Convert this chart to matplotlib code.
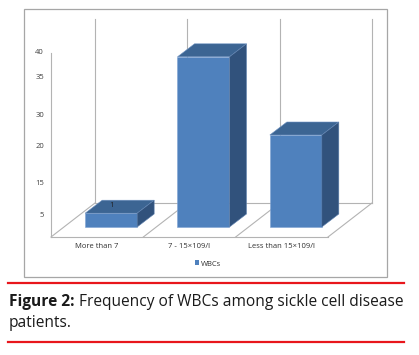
import matplotlib
matplotlib.use("Agg")
import matplotlib.pyplot as plt
from matplotlib.patches import Polygon, Rectangle, Patch
from matplotlib.lines import Line2D

# data
categories = ['More than 7', '7 - 15×109/l', 'Less than 15×109/l']
values = [3, 37, 20]
data_labels = ['1', '', '']
series_name = 'WBCs'
ytick_pos = [4.6, 11.7, 19.6, 26.5, 34.6, 40]
ytick_labels = ['5', '15', '20', '30', '35', '40']

# colours
front_col = '#4f81bd'
top_col = '#3c6593'
side_col = '#31527c'
grid_col = '#b3b3b3'

W, H = 419, 355
fig = plt.figure(figsize=(W / 100, H / 100), dpi=100)
plt.rcParams['font.family'] = ['Open Sans', 'DejaVu Sans']

# one axes over the whole figure, scaled so that category / value units
# land where the reference puts them
px_x, px_y = 92.33, 4.6          # pixels per category, pixels per value unit
ox, oy = 51, 237                 # pixel of (x=-0.5, y=0)
ax = fig.add_axes([0, 0, 1, 1])
ax.set_xlim(-0.5 - ox / px_x, -0.5 + (W - ox) / px_x)
ax.set_ylim(-(H - oy) / px_y, oy / px_y)
ax.axis('off')

ymax = 40
n = len(categories)
floor_dx, floor_dy = 44 / px_x, 34 / px_y     # full depth of floor
bar_off_x, bar_off_y = 14 / px_x, 10 / px_y   # bars sit part way back
bar_dx, bar_dy = 17 / px_x, 13 / px_y         # bar depth
bw = 52 / px_x

# back wall gridlines at category boundaries
for i in range(n + 1):
    b = i - 0.5
    ax.plot([b + floor_dx, b + floor_dx], [floor_dy, floor_dy + ymax],
            color=grid_col, lw=0.8, zorder=1)
    ax.plot([b, b + floor_dx], [0, floor_dy], color=grid_col, lw=0.8, zorder=1)
ax.plot([-0.5 + floor_dx, n - 0.5 + floor_dx], [floor_dy, floor_dy],
        color=grid_col, lw=0.8, zorder=1)
ax.plot([-0.5, n - 0.5], [0, 0], color=grid_col, lw=0.8, zorder=1)
# value axis line
ax.plot([-0.5, -0.5], [0, ymax], color=grid_col, lw=0.8, zorder=1)

for p, lab in zip(ytick_pos, ytick_labels):
    ax.text(-0.5 - 7 / px_x, p, lab, ha='right', va='center',
            fontsize=5.5, color='#404040')

# bars
xs = [i + bar_off_x for i in range(n)]
ax.bar(xs, values, width=bw, bottom=bar_off_y, color=front_col,
       edgecolor='#7fa3d3', linewidth=0.4, zorder=3)
for x, v in zip(xs, values):
    l, r = x - bw / 2, x + bw / 2
    base, top = bar_off_y, bar_off_y + v
    ax.add_patch(Polygon([(l, top), (r, top), (r + bar_dx, top + bar_dy),
                          (l + bar_dx, top + bar_dy)], closed=True,
                         facecolor=top_col, edgecolor='#6f93c2', lw=0.4, zorder=3))
    ax.add_patch(Polygon([(r, base), (r + bar_dx, base + bar_dy),
                          (r + bar_dx, top + bar_dy), (r, top)], closed=True,
                         facecolor=side_col, edgecolor='#5f82b0', lw=0.4, zorder=3))

for x, v, lab in zip(xs, values, data_labels):
    if lab:
        ax.text(x, bar_off_y + v + bar_dy * 0.6, lab, ha='center', va='center',
                fontsize=5.5, color='#202020', zorder=4)

# category labels
for i, c in enumerate(categories):
    ax.text(i, -10 / px_y, c, ha='center', va='center', fontsize=5.5,
            color='#303030')

# legend
ax.legend(handles=[Patch(facecolor=front_col)], labels=[series_name],
          loc='center', bbox_to_anchor=(208 / W, 1 - 264 / H),
          bbox_transform=fig.transFigure, frameon=False, fontsize=5.5,
          handlelength=0.55, handleheight=0.55, handletextpad=0.3,
          labelcolor='#303030')

# chart frame
fig.add_artist(Rectangle((24 / W, 1 - 277 / H), (387 - 24) / W, (277 - 9) / H,
                         transform=fig.transFigure, fill=False,
                         edgecolor='#a6a6a6', lw=0.9))

# red rules and caption
for yy in (283, 342):
    fig.add_artist(Line2D([8 / W, 404 / W], [1 - yy / H] * 2,
                          transform=fig.transFigure, color='#e8161c', lw=1.6))

cap_fs = 11.2
t1 = fig.text(9 / W, 1 - 302 / H, 'Figure 2:', fontsize=cap_fs, weight='bold',
              va='center', color='#1a1a1a')
fig.canvas.draw()
bb = t1.get_window_extent(fig.canvas.get_renderer())
fig.text(bb.x1 / W + 4 / W, 1 - 302 / H,
         'Frequency of WBCs among sickle cell disease', fontsize=cap_fs,
         va='center', color='#1a1a1a')
fig.text(9 / W, 1 - 323 / H, 'patients.', fontsize=cap_fs, va='center',
         color='#1a1a1a')

plt.savefig('out.png', dpi=100)
